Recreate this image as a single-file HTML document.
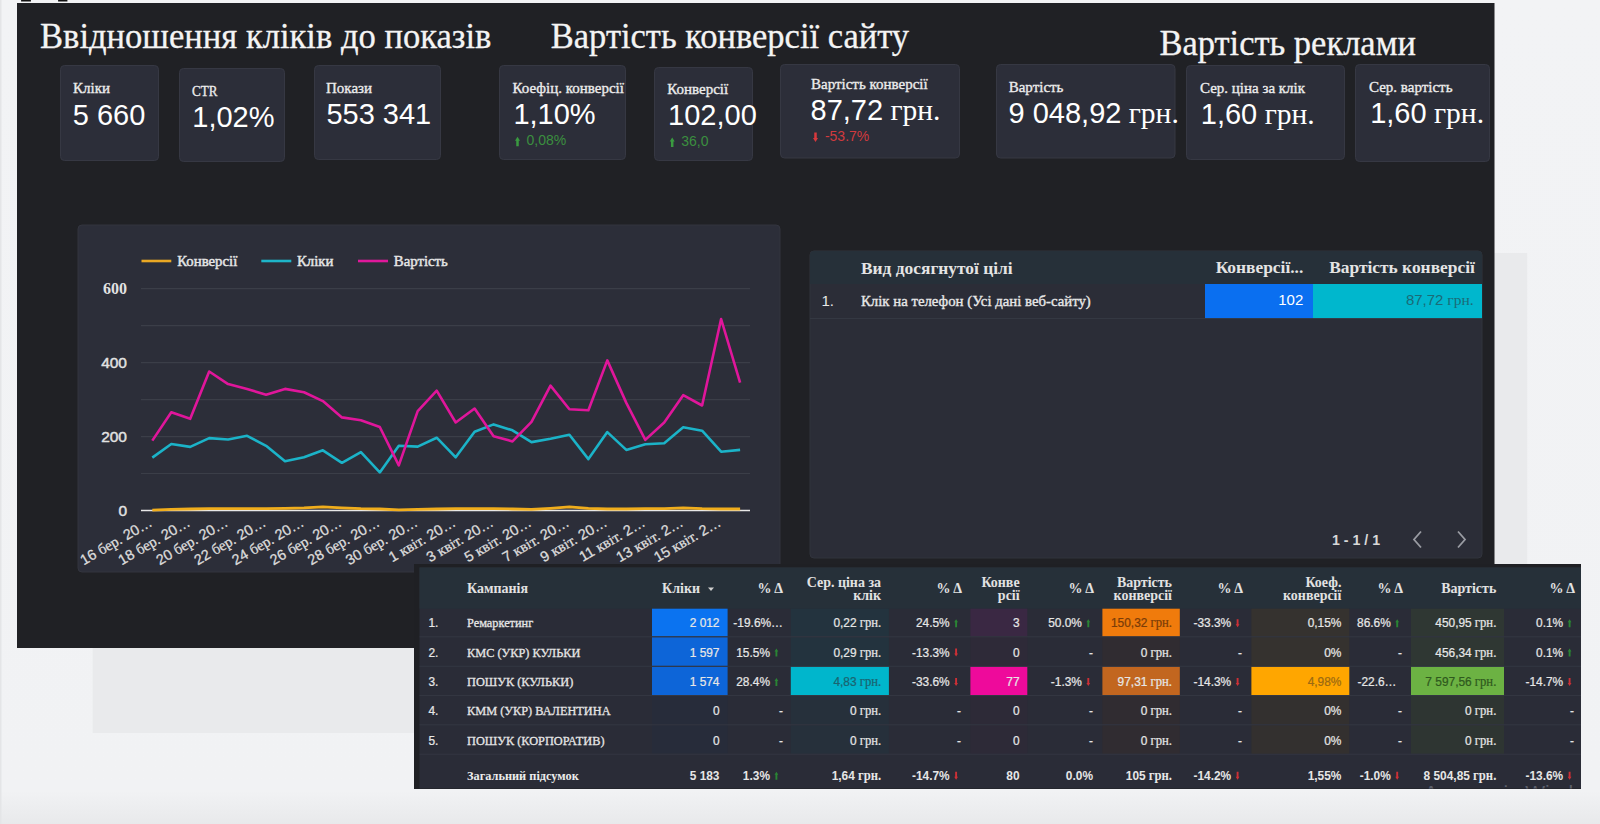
<!DOCTYPE html><html><head><meta charset="utf-8"><title>Dashboard</title>
<style>html,body{margin:0;padding:0;background:#f2f3f5;overflow:hidden;width:1600px;height:824px}svg{display:block}text{white-space:pre}</style></head><body>
<svg width="1600" height="824" viewBox="0 0 1600 824">
<defs><linearGradient id="bg" x1="0" y1="0" x2="0" y2="1"><stop offset="0" stop-color="#f2f3f5"/><stop offset="0.96" stop-color="#f1f2f4"/><stop offset="1" stop-color="#e8e9eb"/></linearGradient></defs>
<rect x="0" y="0" width="1600" height="824" fill="url(#bg)" />
<rect x="0" y="0" width="1.5" height="824" fill="#e4e5e7" />
<rect x="21" y="0" width="10" height="1.6" fill="#111" rx="0.5" />
<rect x="58" y="0" width="9.5" height="1.6" fill="#111" rx="0.5" />
<rect x="92.7" y="253" width="1434.5" height="480" fill="#e9eaec" />
<rect x="17" y="3" width="1477.5" height="645" fill="#202125" />
<text transform="translate(40,48.4) scale(0.945,1)" x="0" y="0" text-anchor="start" fill="#f4f4f4" font-size="36.6" font-family="'Liberation Serif', 'Times New Roman', serif" font-weight="normal"  stroke="#f4f4f4" stroke-width="0.3" stroke-linejoin="round">Ввідношення кліків до показів</text>
<text transform="translate(550.8,48.1) scale(0.945,1)" x="0" y="0" text-anchor="start" fill="#f4f4f4" font-size="36.5" font-family="'Liberation Serif', 'Times New Roman', serif" font-weight="normal"  stroke="#f4f4f4" stroke-width="0.3" stroke-linejoin="round">Вартість конверсії сайту</text>
<text transform="translate(1159.4,55.2) scale(0.945,1)" x="0" y="0" text-anchor="start" fill="#f4f4f4" font-size="36.5" font-family="'Liberation Serif', 'Times New Roman', serif" font-weight="normal"  stroke="#f4f4f4" stroke-width="0.3" stroke-linejoin="round">Вартість реклами</text>
<rect x="60.5" y="65.5" width="98" height="95" fill="#2c2e39" rx="4" stroke="#363843" stroke-width="1" />
<text x="73" y="92.6" text-anchor="start" fill="#ececec" font-size="15" font-family="'Liberation Serif', 'Times New Roman', serif" font-weight="normal"  stroke="#ececec" stroke-width="0.35" stroke-linejoin="round">Кліки</text>
<text x="72.8" y="124.5" text-anchor="start" fill="#ffffff" font-size="29" font-family="'Liberation Sans', Arial, sans-serif" font-weight="normal" >5 660</text>
<rect x="179.5" y="68.5" width="105" height="93" fill="#2c2e39" rx="4" stroke="#363843" stroke-width="1" />
<text transform="translate(192,95.6) scale(0.87,1)" x="0" y="0" text-anchor="start" fill="#ececec" font-size="15" font-family="'Liberation Serif', 'Times New Roman', serif" font-weight="normal"  stroke="#ececec" stroke-width="0.35" stroke-linejoin="round">CTR</text>
<text x="192.3" y="127" text-anchor="start" fill="#ffffff" font-size="29" font-family="'Liberation Sans', Arial, sans-serif" font-weight="normal" >1,02%</text>
<rect x="314.5" y="65.5" width="126" height="94" fill="#2c2e39" rx="4" stroke="#363843" stroke-width="1" />
<text x="326" y="93.2" text-anchor="start" fill="#ececec" font-size="15" font-family="'Liberation Serif', 'Times New Roman', serif" font-weight="normal"  stroke="#ececec" stroke-width="0.35" stroke-linejoin="round">Покази</text>
<text x="326.4" y="124" text-anchor="start" fill="#ffffff" font-size="29" font-family="'Liberation Sans', Arial, sans-serif" font-weight="normal" >553 341</text>
<rect x="499.5" y="65.5" width="126" height="94" fill="#2c2e39" rx="4" stroke="#363843" stroke-width="1" />
<text x="512.5" y="93.2" text-anchor="start" fill="#ececec" font-size="15" font-family="'Liberation Serif', 'Times New Roman', serif" font-weight="normal"  stroke="#ececec" stroke-width="0.35" stroke-linejoin="round">Коефіц. конверсії</text>
<text x="513.4" y="124" text-anchor="start" fill="#ffffff" font-size="29" font-family="'Liberation Sans', Arial, sans-serif" font-weight="normal" >1,10%</text>
<path d="M517.5 136.8 L520 140.8 L518.75 140.8 L518.75 146.3 L516.25 146.3 L516.25 140.8 L515 140.8 Z" fill="#3a9a40"/>
<text x="526.5" y="145.3" text-anchor="start" fill="#3b8f3f" font-size="14" font-family="'Liberation Sans', Arial, sans-serif" font-weight="normal" >0,08%</text>
<rect x="654.5" y="67.5" width="98" height="93" fill="#2c2e39" rx="4" stroke="#363843" stroke-width="1" />
<text x="667.2" y="93.9" text-anchor="start" fill="#ececec" font-size="15" font-family="'Liberation Serif', 'Times New Roman', serif" font-weight="normal"  stroke="#ececec" stroke-width="0.35" stroke-linejoin="round">Конверсії</text>
<text x="668.1" y="125.1" text-anchor="start" fill="#ffffff" font-size="29" font-family="'Liberation Sans', Arial, sans-serif" font-weight="normal" >102,00</text>
<path d="M672.2 137.5 L674.7 141.5 L673.45 141.5 L673.45 147 L670.95 147 L670.95 141.5 L669.7 141.5 Z" fill="#3a9a40"/>
<text x="681.2" y="146" text-anchor="start" fill="#3b8f3f" font-size="14" font-family="'Liberation Sans', Arial, sans-serif" font-weight="normal" >36,0</text>
<rect x="780.5" y="64.5" width="179" height="93.5" fill="#2c2e39" rx="4" stroke="#363843" stroke-width="1" />
<text x="811" y="89" text-anchor="start" fill="#ececec" font-size="15" font-family="'Liberation Serif', 'Times New Roman', serif" font-weight="normal"  stroke="#ececec" stroke-width="0.35" stroke-linejoin="round">Вартість конверсії</text>
<text x="810.5" y="119.8" text-anchor="start" fill="#ffffff" font-size="29" font-family="'Liberation Sans', Arial, sans-serif" font-weight="normal" >87,72<tspan font-family="'Liberation Serif', 'Times New Roman', serif" font-size="29.5"> грн.</tspan></text>
<path d="M815.5 142 L818 138.0 L816.75 138.0 L816.75 132.5 L814.25 132.5 L814.25 138.0 L813 138.0 Z" fill="#d8383c"/>
<text x="824.9" y="141" text-anchor="start" fill="#d13a3e" font-size="14" font-family="'Liberation Sans', Arial, sans-serif" font-weight="normal" >-53.7%</text>
<rect x="996.5" y="64.5" width="178.5" height="93.5" fill="#2c2e39" rx="4" stroke="#363843" stroke-width="1" />
<text x="1008.7" y="92.2" text-anchor="start" fill="#ececec" font-size="15" font-family="'Liberation Serif', 'Times New Roman', serif" font-weight="normal"  stroke="#ececec" stroke-width="0.35" stroke-linejoin="round">Вартість</text>
<text x="1008.5" y="123.4" text-anchor="start" fill="#ffffff" font-size="29" font-family="'Liberation Sans', Arial, sans-serif" font-weight="normal" >9 048,92<tspan font-family="'Liberation Serif', 'Times New Roman', serif" font-size="29.5"> грн.</tspan></text>
<rect x="1186.5" y="65.5" width="158" height="94" fill="#2c2e39" rx="4" stroke="#363843" stroke-width="1" />
<text x="1200" y="92.8" text-anchor="start" fill="#ececec" font-size="15" font-family="'Liberation Serif', 'Times New Roman', serif" font-weight="normal"  stroke="#ececec" stroke-width="0.35" stroke-linejoin="round">Сер. ціна за клік</text>
<text x="1200.8" y="124" text-anchor="start" fill="#ffffff" font-size="29" font-family="'Liberation Sans', Arial, sans-serif" font-weight="normal" >1,60<tspan font-family="'Liberation Serif', 'Times New Roman', serif" font-size="29.5"> грн.</tspan></text>
<rect x="1355.5" y="64.5" width="134" height="97" fill="#2c2e39" rx="4" stroke="#363843" stroke-width="1" />
<text x="1369" y="92.2" text-anchor="start" fill="#ececec" font-size="15" font-family="'Liberation Serif', 'Times New Roman', serif" font-weight="normal"  stroke="#ececec" stroke-width="0.35" stroke-linejoin="round">Сер. вартість</text>
<text x="1370.2" y="123.4" text-anchor="start" fill="#ffffff" font-size="29" font-family="'Liberation Sans', Arial, sans-serif" font-weight="normal" >1,60<tspan font-family="'Liberation Serif', 'Times New Roman', serif" font-size="29.5"> грн.</tspan></text>
<rect x="78" y="225" width="702" height="347" fill="#2c2e39" rx="4" stroke="#33353f" stroke-width="1" />
<line x1="141.5" y1="261" x2="171.3" y2="261" stroke="#eaa824" stroke-width="2.6"/>
<text x="177.2" y="266.4" text-anchor="start" fill="#e6e6e6" font-size="14.8" font-family="'Liberation Serif', 'Times New Roman', serif" font-weight="normal"  stroke="#e6e6e6" stroke-width="0.45" stroke-linejoin="round">Конверсії</text>
<line x1="261.3" y1="261" x2="291.3" y2="261" stroke="#1eb5c9" stroke-width="2.6"/>
<text x="297" y="266.4" text-anchor="start" fill="#e6e6e6" font-size="14.8" font-family="'Liberation Serif', 'Times New Roman', serif" font-weight="normal"  stroke="#e6e6e6" stroke-width="0.45" stroke-linejoin="round">Кліки</text>
<line x1="358" y1="261" x2="388" y2="261" stroke="#e0189b" stroke-width="2.6"/>
<text x="393.8" y="266.4" text-anchor="start" fill="#e6e6e6" font-size="14.8" font-family="'Liberation Serif', 'Times New Roman', serif" font-weight="normal"  stroke="#e6e6e6" stroke-width="0.45" stroke-linejoin="round">Вартість</text>
<line x1="141" y1="473.5" x2="750" y2="473.5" stroke="#3b3e48" stroke-width="1.2"/>
<line x1="141" y1="436.6" x2="750" y2="436.6" stroke="#3b3e48" stroke-width="1.2"/>
<line x1="141" y1="399.6" x2="750" y2="399.6" stroke="#3b3e48" stroke-width="1.2"/>
<line x1="141" y1="362.7" x2="750" y2="362.7" stroke="#3b3e48" stroke-width="1.2"/>
<line x1="141" y1="325.7" x2="750" y2="325.7" stroke="#3b3e48" stroke-width="1.2"/>
<line x1="141" y1="288.7" x2="750" y2="288.7" stroke="#3b3e48" stroke-width="1.2"/>
<text x="127" y="294.34000000000003" text-anchor="end" fill="#e2e2e2" font-size="16" font-family="'Liberation Serif', 'Times New Roman', serif" font-weight="bold" >600</text>
<text x="127" y="368.26" text-anchor="end" fill="#e2e2e2" font-size="15.5" font-family="'Liberation Sans', Arial, sans-serif" font-weight="normal"  stroke="#e2e2e2" stroke-width="0.45" stroke-linejoin="round">400</text>
<text x="127" y="442.18" text-anchor="end" fill="#e2e2e2" font-size="15.5" font-family="'Liberation Sans', Arial, sans-serif" font-weight="normal"  stroke="#e2e2e2" stroke-width="0.45" stroke-linejoin="round">200</text>
<text x="127" y="516.1" text-anchor="end" fill="#e2e2e2" font-size="15.5" font-family="'Liberation Sans', Arial, sans-serif" font-weight="normal"  stroke="#e2e2e2" stroke-width="0.45" stroke-linejoin="round">0</text>
<line x1="141" y1="510.5" x2="750" y2="510.5" stroke="#e8e8e8" stroke-width="1.3"/>
<polyline points="152.3,510.1 171.3,509.4 190.2,509.0 209.2,508.7 228.1,508.7 247.1,508.7 266.1,508.7 285.0,508.3 304.0,507.9 322.9,506.8 341.9,507.9 360.9,508.7 379.8,509.0 398.8,509.8 417.7,509.4 436.7,509.0 455.7,508.7 474.6,508.7 493.6,508.7 512.5,509.0 531.5,509.4 550.5,508.3 569.4,506.8 588.4,508.3 607.3,509.0 626.3,509.0 645.3,508.7 664.2,508.7 683.2,507.9 702.1,508.7 721.1,509.0 740.1,509.0" fill="none" stroke="#f0ad1c" stroke-width="2.8" stroke-linejoin="round"/>
<polyline points="152.3,457.6 171.3,444.0 190.2,446.9 209.2,438.1 228.1,439.5 247.1,435.8 266.1,445.8 285.0,461.3 304.0,457.3 322.9,450.3 341.9,462.8 360.9,452.1 379.8,472.4 398.8,445.8 417.7,446.6 436.7,437.7 455.7,457.3 474.6,431.8 493.6,424.4 512.5,430.3 531.5,442.1 550.5,438.8 569.4,434.7 588.4,459.1 607.3,432.1 626.3,449.9 645.3,444.3 664.2,443.2 683.2,427.3 702.1,430.7 721.1,451.7 740.1,449.9" fill="none" stroke="#1bb3c8" stroke-width="2.6" stroke-linejoin="round"/>
<polyline points="152.3,440.6 171.3,412.2 190.2,418.8 209.2,371.5 228.1,384.1 247.1,388.9 266.1,394.8 285.0,388.9 304.0,392.2 322.9,401.1 341.9,417.4 360.9,420.3 379.8,427.0 398.8,465.4 417.7,411.1 436.7,390.7 455.7,422.5 474.6,408.5 493.6,436.2 512.5,441.4 531.5,421.8 550.5,385.6 569.4,409.2 588.4,410.3 607.3,360.4 626.3,402.9 645.3,439.9 664.2,422.5 683.2,395.2 702.1,405.5 721.1,319.0 740.1,382.6" fill="none" stroke="#e0169b" stroke-width="2.6" stroke-linejoin="round"/>
<g transform="translate(153.3,525.3) rotate(-30)">
<text x="0" y="0" text-anchor="end" fill="#dcdcdc" font-size="14.5" font-family="'Liberation Sans', Arial, sans-serif" font-weight="normal"  stroke="#dcdcdc" stroke-width="0.3" stroke-linejoin="round">16 <tspan font-family="'Liberation Serif', 'Times New Roman', serif" font-size="15">бер.</tspan> 20…</text>
</g>
<g transform="translate(191.2,525.3) rotate(-30)">
<text x="0" y="0" text-anchor="end" fill="#dcdcdc" font-size="14.5" font-family="'Liberation Sans', Arial, sans-serif" font-weight="normal"  stroke="#dcdcdc" stroke-width="0.3" stroke-linejoin="round">18 <tspan font-family="'Liberation Serif', 'Times New Roman', serif" font-size="15">бер.</tspan> 20…</text>
</g>
<g transform="translate(229.1,525.3) rotate(-30)">
<text x="0" y="0" text-anchor="end" fill="#dcdcdc" font-size="14.5" font-family="'Liberation Sans', Arial, sans-serif" font-weight="normal"  stroke="#dcdcdc" stroke-width="0.3" stroke-linejoin="round">20 <tspan font-family="'Liberation Serif', 'Times New Roman', serif" font-size="15">бер.</tspan> 20…</text>
</g>
<g transform="translate(267.1,525.3) rotate(-30)">
<text x="0" y="0" text-anchor="end" fill="#dcdcdc" font-size="14.5" font-family="'Liberation Sans', Arial, sans-serif" font-weight="normal"  stroke="#dcdcdc" stroke-width="0.3" stroke-linejoin="round">22 <tspan font-family="'Liberation Serif', 'Times New Roman', serif" font-size="15">бер.</tspan> 20…</text>
</g>
<g transform="translate(305.0,525.3) rotate(-30)">
<text x="0" y="0" text-anchor="end" fill="#dcdcdc" font-size="14.5" font-family="'Liberation Sans', Arial, sans-serif" font-weight="normal"  stroke="#dcdcdc" stroke-width="0.3" stroke-linejoin="round">24 <tspan font-family="'Liberation Serif', 'Times New Roman', serif" font-size="15">бер.</tspan> 20…</text>
</g>
<g transform="translate(342.9,525.3) rotate(-30)">
<text x="0" y="0" text-anchor="end" fill="#dcdcdc" font-size="14.5" font-family="'Liberation Sans', Arial, sans-serif" font-weight="normal"  stroke="#dcdcdc" stroke-width="0.3" stroke-linejoin="round">26 <tspan font-family="'Liberation Serif', 'Times New Roman', serif" font-size="15">бер.</tspan> 20…</text>
</g>
<g transform="translate(380.8,525.3) rotate(-30)">
<text x="0" y="0" text-anchor="end" fill="#dcdcdc" font-size="14.5" font-family="'Liberation Sans', Arial, sans-serif" font-weight="normal"  stroke="#dcdcdc" stroke-width="0.3" stroke-linejoin="round">28 <tspan font-family="'Liberation Serif', 'Times New Roman', serif" font-size="15">бер.</tspan> 20…</text>
</g>
<g transform="translate(418.7,525.3) rotate(-30)">
<text x="0" y="0" text-anchor="end" fill="#dcdcdc" font-size="14.5" font-family="'Liberation Sans', Arial, sans-serif" font-weight="normal"  stroke="#dcdcdc" stroke-width="0.3" stroke-linejoin="round">30 <tspan font-family="'Liberation Serif', 'Times New Roman', serif" font-size="15">бер.</tspan> 20…</text>
</g>
<g transform="translate(456.7,525.3) rotate(-30)">
<text x="0" y="0" text-anchor="end" fill="#dcdcdc" font-size="14.5" font-family="'Liberation Sans', Arial, sans-serif" font-weight="normal"  stroke="#dcdcdc" stroke-width="0.3" stroke-linejoin="round">1 <tspan font-family="'Liberation Serif', 'Times New Roman', serif" font-size="15">квіт.</tspan> 20…</text>
</g>
<g transform="translate(494.6,525.3) rotate(-30)">
<text x="0" y="0" text-anchor="end" fill="#dcdcdc" font-size="14.5" font-family="'Liberation Sans', Arial, sans-serif" font-weight="normal"  stroke="#dcdcdc" stroke-width="0.3" stroke-linejoin="round">3 <tspan font-family="'Liberation Serif', 'Times New Roman', serif" font-size="15">квіт.</tspan> 20…</text>
</g>
<g transform="translate(532.5,525.3) rotate(-30)">
<text x="0" y="0" text-anchor="end" fill="#dcdcdc" font-size="14.5" font-family="'Liberation Sans', Arial, sans-serif" font-weight="normal"  stroke="#dcdcdc" stroke-width="0.3" stroke-linejoin="round">5 <tspan font-family="'Liberation Serif', 'Times New Roman', serif" font-size="15">квіт.</tspan> 20…</text>
</g>
<g transform="translate(570.4,525.3) rotate(-30)">
<text x="0" y="0" text-anchor="end" fill="#dcdcdc" font-size="14.5" font-family="'Liberation Sans', Arial, sans-serif" font-weight="normal"  stroke="#dcdcdc" stroke-width="0.3" stroke-linejoin="round">7 <tspan font-family="'Liberation Serif', 'Times New Roman', serif" font-size="15">квіт.</tspan> 20…</text>
</g>
<g transform="translate(608.3,525.3) rotate(-30)">
<text x="0" y="0" text-anchor="end" fill="#dcdcdc" font-size="14.5" font-family="'Liberation Sans', Arial, sans-serif" font-weight="normal"  stroke="#dcdcdc" stroke-width="0.3" stroke-linejoin="round">9 <tspan font-family="'Liberation Serif', 'Times New Roman', serif" font-size="15">квіт.</tspan> 20…</text>
</g>
<g transform="translate(646.3,525.3) rotate(-30)">
<text x="0" y="0" text-anchor="end" fill="#dcdcdc" font-size="14.5" font-family="'Liberation Sans', Arial, sans-serif" font-weight="normal"  stroke="#dcdcdc" stroke-width="0.3" stroke-linejoin="round">11 <tspan font-family="'Liberation Serif', 'Times New Roman', serif" font-size="15">квіт.</tspan> 2…</text>
</g>
<g transform="translate(684.2,525.3) rotate(-30)">
<text x="0" y="0" text-anchor="end" fill="#dcdcdc" font-size="14.5" font-family="'Liberation Sans', Arial, sans-serif" font-weight="normal"  stroke="#dcdcdc" stroke-width="0.3" stroke-linejoin="round">13 <tspan font-family="'Liberation Serif', 'Times New Roman', serif" font-size="15">квіт.</tspan> 2…</text>
</g>
<g transform="translate(722.1,525.3) rotate(-30)">
<text x="0" y="0" text-anchor="end" fill="#dcdcdc" font-size="14.5" font-family="'Liberation Sans', Arial, sans-serif" font-weight="normal"  stroke="#dcdcdc" stroke-width="0.3" stroke-linejoin="round">15 <tspan font-family="'Liberation Serif', 'Times New Roman', serif" font-size="15">квіт.</tspan> 2…</text>
</g>
<rect x="810" y="251" width="672" height="307" fill="#2b2d37" rx="4" stroke="#31343d" stroke-width="1" />
<path d="M810 284 L810 255 Q810 251 814 251 L1478 251 Q1482 251 1482 255 L1482 284 Z" fill="#263039"/>
<text x="861" y="274" text-anchor="start" fill="#e4e4e4" font-size="17.4" font-family="'Liberation Serif', 'Times New Roman', serif" font-weight="bold" >Вид досягнутої цілі</text>
<text x="1303.3" y="272.8" text-anchor="end" fill="#e4e4e4" font-size="17.4" font-family="'Liberation Serif', 'Times New Roman', serif" font-weight="bold" >Конверсії...</text>
<text x="1474.8" y="272.8" text-anchor="end" fill="#e4e4e4" font-size="17.4" font-family="'Liberation Serif', 'Times New Roman', serif" font-weight="bold" >Вартість конверсії</text>
<rect x="1205" y="284" width="108" height="34.4" fill="#0a6ff0" />
<rect x="1313" y="284" width="169" height="34.4" fill="#00b7cd" />
<line x1="810" y1="318.6" x2="1482" y2="318.6" stroke="#363a44" stroke-width="1"/>
<text x="821.5" y="305.6" text-anchor="start" fill="#e8e8e8" font-size="15" font-family="'Liberation Sans', Arial, sans-serif" font-weight="normal" >1.</text>
<text x="861" y="305.8" text-anchor="start" fill="#e8e8e8" font-size="14.8" font-family="'Liberation Serif', 'Times New Roman', serif" font-weight="normal"  stroke="#e8e8e8" stroke-width="0.35" stroke-linejoin="round">Клік на телефон (Усі дані веб-сайту)</text>
<text x="1303.3" y="305.4" text-anchor="end" fill="#ffffff" font-size="15" font-family="'Liberation Sans', Arial, sans-serif" font-weight="normal" >102</text>
<text x="1473.6" y="305.4" text-anchor="end" fill="#1b6b77" font-size="15" font-family="'Liberation Sans', Arial, sans-serif" font-weight="normal" >87,72<tspan font-family="'Liberation Serif', 'Times New Roman', serif" font-size="15.5"> грн.</tspan></text>
<text x="1332" y="545" text-anchor="start" fill="#d8d8d8" font-size="14.2" font-family="'Liberation Sans', Arial, sans-serif" font-weight="bold" >1 - 1 / 1</text>
<path d="M1421 531.5 L1414 539.5 L1421 547.5" fill="none" stroke="#9a9ca3" stroke-width="1.8"/>
<path d="M1458 531.5 L1465 539.5 L1458 547.5" fill="none" stroke="#9a9ca3" stroke-width="1.8"/>
<rect x="414" y="564" width="1167" height="225" fill="#1f2024" />
<rect x="419.5" y="567.5" width="1161.5" height="221" fill="#2a2c37" />
<rect x="419.5" y="567.5" width="1161.5" height="41.2" fill="#263039" />
<rect x="652" y="608.7" width="75.6" height="27.7" fill="#0b73f0" />
<rect x="652" y="637.2" width="75.6" height="28.7" fill="#0d65d8" />
<rect x="652" y="666.7" width="75.6" height="28.4" fill="#0d65d8" />
<rect x="652" y="695.9" width="75.6" height="28.5" fill="#272c3a" />
<rect x="652" y="725.2" width="75.6" height="28.6" fill="#272c3a" />
<rect x="790.8" y="608.7" width="98.1" height="27.7" fill="#23333e" />
<rect x="790.8" y="637.2" width="98.1" height="28.7" fill="#23333e" />
<rect x="790.8" y="666.7" width="98.1" height="28.4" fill="#00b6cc" />
<rect x="790.8" y="695.9" width="98.1" height="28.5" fill="#26303b" />
<rect x="790.8" y="725.2" width="98.1" height="28.6" fill="#26303b" />
<rect x="970.4" y="608.7" width="56.9" height="27.7" fill="#3a2843" />
<rect x="970.4" y="637.2" width="56.9" height="28.7" fill="#2e2a38" />
<rect x="970.4" y="666.7" width="56.9" height="28.4" fill="#ee0a9b" />
<rect x="970.4" y="695.9" width="56.9" height="28.5" fill="#2d2a37" />
<rect x="970.4" y="725.2" width="56.9" height="28.6" fill="#2d2a37" />
<rect x="1102.4" y="608.7" width="77.4" height="27.7" fill="#f07b0c" />
<rect x="1102.4" y="637.2" width="77.4" height="28.7" fill="#302c31" />
<rect x="1102.4" y="666.7" width="77.4" height="28.4" fill="#c2661f" />
<rect x="1102.4" y="695.9" width="77.4" height="28.5" fill="#302c31" />
<rect x="1102.4" y="725.2" width="77.4" height="28.6" fill="#302c31" />
<rect x="1251.4" y="608.7" width="97.9" height="27.7" fill="#35322f" />
<rect x="1251.4" y="637.2" width="97.9" height="28.7" fill="#35322f" />
<rect x="1251.4" y="666.7" width="97.9" height="28.4" fill="#ffa600" />
<rect x="1251.4" y="695.9" width="97.9" height="28.5" fill="#33302f" />
<rect x="1251.4" y="725.2" width="97.9" height="28.6" fill="#33302f" />
<rect x="1411" y="608.7" width="93" height="27.7" fill="#2f3733" />
<rect x="1411" y="637.2" width="93" height="28.7" fill="#2f3733" />
<rect x="1411" y="666.7" width="93" height="28.4" fill="#6cb243" />
<rect x="1411" y="695.9" width="93" height="28.5" fill="#2e3532" />
<rect x="1411" y="725.2" width="93" height="28.6" fill="#2e3532" />
<line x1="419.5" y1="636.8000000000001" x2="1581" y2="636.8000000000001" stroke="#343843" stroke-width="0.9"/>
<line x1="419.5" y1="666.3000000000001" x2="1581" y2="666.3000000000001" stroke="#343843" stroke-width="0.9"/>
<line x1="419.5" y1="695.5" x2="1581" y2="695.5" stroke="#343843" stroke-width="0.9"/>
<line x1="419.5" y1="724.8000000000001" x2="1581" y2="724.8000000000001" stroke="#343843" stroke-width="0.9"/>
<line x1="419.5" y1="754.2" x2="1581" y2="754.2" stroke="#343843" stroke-width="0.9"/>
<text transform="translate(467,592.9) scale(0.985,1)" x="0" y="0" text-anchor="start" fill="#e2e2e2" font-size="14.2" font-family="'Liberation Serif', 'Times New Roman', serif" font-weight="bold" >Кампанія</text>
<text transform="translate(700,592.9) scale(0.985,1)" x="0" y="0" text-anchor="end" fill="#e2e2e2" font-size="14.2" font-family="'Liberation Serif', 'Times New Roman', serif" font-weight="bold" >Кліки</text>
<path d="M708 587.4 L714 587.4 L711 590.9 Z" fill="#d0d0d0"/>
<text transform="translate(783,592.9) scale(0.985,1)" x="0" y="0" text-anchor="end" fill="#e2e2e2" font-size="14.2" font-family="'Liberation Serif', 'Times New Roman', serif" font-weight="bold" >% Δ</text>
<text transform="translate(881,586.9) scale(0.985,1)" x="0" y="0" text-anchor="end" fill="#e2e2e2" font-size="14.2" font-family="'Liberation Serif', 'Times New Roman', serif" font-weight="bold" >Сер. ціна за</text>
<text transform="translate(881,600.3) scale(0.985,1)" x="0" y="0" text-anchor="end" fill="#e2e2e2" font-size="14.2" font-family="'Liberation Serif', 'Times New Roman', serif" font-weight="bold" >клік</text>
<text transform="translate(962,592.9) scale(0.985,1)" x="0" y="0" text-anchor="end" fill="#e2e2e2" font-size="14.2" font-family="'Liberation Serif', 'Times New Roman', serif" font-weight="bold" >% Δ</text>
<text transform="translate(1019.6,586.9) scale(0.985,1)" x="0" y="0" text-anchor="end" fill="#e2e2e2" font-size="14.2" font-family="'Liberation Serif', 'Times New Roman', serif" font-weight="bold" >Конве</text>
<text transform="translate(1019.6,600.3) scale(0.985,1)" x="0" y="0" text-anchor="end" fill="#e2e2e2" font-size="14.2" font-family="'Liberation Serif', 'Times New Roman', serif" font-weight="bold" >рсії</text>
<text transform="translate(1094,592.9) scale(0.985,1)" x="0" y="0" text-anchor="end" fill="#e2e2e2" font-size="14.2" font-family="'Liberation Serif', 'Times New Roman', serif" font-weight="bold" >% Δ</text>
<text transform="translate(1172,586.9) scale(0.985,1)" x="0" y="0" text-anchor="end" fill="#e2e2e2" font-size="14.2" font-family="'Liberation Serif', 'Times New Roman', serif" font-weight="bold" >Вартість</text>
<text transform="translate(1172,600.3) scale(0.985,1)" x="0" y="0" text-anchor="end" fill="#e2e2e2" font-size="14.2" font-family="'Liberation Serif', 'Times New Roman', serif" font-weight="bold" >конверсії</text>
<text transform="translate(1243,592.9) scale(0.985,1)" x="0" y="0" text-anchor="end" fill="#e2e2e2" font-size="14.2" font-family="'Liberation Serif', 'Times New Roman', serif" font-weight="bold" >% Δ</text>
<text transform="translate(1341.4,586.9) scale(0.985,1)" x="0" y="0" text-anchor="end" fill="#e2e2e2" font-size="14.2" font-family="'Liberation Serif', 'Times New Roman', serif" font-weight="bold" >Коеф.</text>
<text transform="translate(1341.4,600.3) scale(0.985,1)" x="0" y="0" text-anchor="end" fill="#e2e2e2" font-size="14.2" font-family="'Liberation Serif', 'Times New Roman', serif" font-weight="bold" >конверсії</text>
<text transform="translate(1403,592.9) scale(0.985,1)" x="0" y="0" text-anchor="end" fill="#e2e2e2" font-size="14.2" font-family="'Liberation Serif', 'Times New Roman', serif" font-weight="bold" >% Δ</text>
<text transform="translate(1496.3,592.9) scale(0.985,1)" x="0" y="0" text-anchor="end" fill="#e2e2e2" font-size="14.2" font-family="'Liberation Serif', 'Times New Roman', serif" font-weight="bold" >Вартість</text>
<text transform="translate(1575,592.9) scale(0.985,1)" x="0" y="0" text-anchor="end" fill="#e2e2e2" font-size="14.2" font-family="'Liberation Serif', 'Times New Roman', serif" font-weight="bold" >% Δ</text>
<text transform="translate(428.5,627.2) scale(0.93,1)" x="0" y="0" text-anchor="start" fill="#e6e6e6" font-size="12.8" font-family="'Liberation Sans', Arial, sans-serif" font-weight="normal"  stroke="#e6e6e6" stroke-width="0.25" stroke-linejoin="round">1.</text>
<text transform="translate(467,627.2) scale(0.92,1)" x="0" y="0" text-anchor="start" fill="#e6e6e6" font-size="13.4" font-family="'Liberation Serif', 'Times New Roman', serif" font-weight="normal"  stroke="#e6e6e6" stroke-width="0.3" stroke-linejoin="round">Ремаркетинг</text>
<text transform="translate(719.5,627.2) scale(0.93,1)" x="0" y="0" text-anchor="end" fill="#e6e6e6" font-size="12.8" font-family="'Liberation Sans', Arial, sans-serif" font-weight="normal"  stroke="#e6e6e6" stroke-width="0.25" stroke-linejoin="round">2 012</text>
<text transform="translate(783,627.2) scale(0.93,1)" x="0" y="0" text-anchor="end" fill="#e6e6e6" font-size="12.8" font-family="'Liberation Sans', Arial, sans-serif" font-weight="normal"  stroke="#e6e6e6" stroke-width="0.25" stroke-linejoin="round">-19.6%…</text>
<text transform="translate(881.2,627.2) scale(0.93,1)" x="0" y="0" text-anchor="end" fill="#e6e6e6" font-size="12.8" font-family="'Liberation Sans', Arial, sans-serif" font-weight="normal"  stroke="#e6e6e6" stroke-width="0.25" stroke-linejoin="round">0,22<tspan font-family="'Liberation Serif', 'Times New Roman', serif" font-size="13.6"> грн.</tspan></text>
<text transform="translate(949.7,627.2) scale(0.93,1)" x="0" y="0" text-anchor="end" fill="#e6e6e6" font-size="12.8" font-family="'Liberation Sans', Arial, sans-serif" font-weight="normal"  stroke="#e6e6e6" stroke-width="0.25" stroke-linejoin="round">24.5%</text>
<path d="M956.1 619.2 L958.0 622.24 L957.0500000000001 622.24 L957.0500000000001 627.2 L955.1500000000001 627.2 L955.1500000000001 622.24 L954.2 622.24 Z" fill="#2a8434"/>
<text transform="translate(1019.6,627.2) scale(0.93,1)" x="0" y="0" text-anchor="end" fill="#e6e6e6" font-size="12.8" font-family="'Liberation Sans', Arial, sans-serif" font-weight="normal"  stroke="#e6e6e6" stroke-width="0.25" stroke-linejoin="round">3</text>
<text transform="translate(1081.9,627.2) scale(0.93,1)" x="0" y="0" text-anchor="end" fill="#e6e6e6" font-size="12.8" font-family="'Liberation Sans', Arial, sans-serif" font-weight="normal"  stroke="#e6e6e6" stroke-width="0.25" stroke-linejoin="round">50.0%</text>
<path d="M1088.3000000000002 619.2 L1090.2 622.24 L1089.25 622.24 L1089.25 627.2 L1087.3500000000001 627.2 L1087.3500000000001 622.24 L1086.4 622.24 Z" fill="#2a8434"/>
<text transform="translate(1172,627.2) scale(0.93,1)" x="0" y="0" text-anchor="end" fill="#7a3c08" font-size="12.8" font-family="'Liberation Sans', Arial, sans-serif" font-weight="normal"  stroke="#7a3c08" stroke-width="0.25" stroke-linejoin="round">150,32<tspan font-family="'Liberation Serif', 'Times New Roman', serif" font-size="13.6"> грн.</tspan></text>
<text transform="translate(1231.2,627.2) scale(0.93,1)" x="0" y="0" text-anchor="end" fill="#e6e6e6" font-size="12.8" font-family="'Liberation Sans', Arial, sans-serif" font-weight="normal"  stroke="#e6e6e6" stroke-width="0.25" stroke-linejoin="round">-33.3%</text>
<path d="M1237.6000000000001 627.2 L1239.5 624.1600000000001 L1238.55 624.1600000000001 L1238.55 619.2 L1236.65 619.2 L1236.65 624.1600000000001 L1235.7 624.1600000000001 Z" fill="#cc3036"/>
<text transform="translate(1341.4,627.2) scale(0.93,1)" x="0" y="0" text-anchor="end" fill="#e6e6e6" font-size="12.8" font-family="'Liberation Sans', Arial, sans-serif" font-weight="normal"  stroke="#e6e6e6" stroke-width="0.25" stroke-linejoin="round">0,15%</text>
<text transform="translate(1390.8,627.2) scale(0.93,1)" x="0" y="0" text-anchor="end" fill="#e6e6e6" font-size="12.8" font-family="'Liberation Sans', Arial, sans-serif" font-weight="normal"  stroke="#e6e6e6" stroke-width="0.25" stroke-linejoin="round">86.6%</text>
<path d="M1397.2 619.2 L1399.1 622.24 L1398.1499999999999 622.24 L1398.1499999999999 627.2 L1396.25 627.2 L1396.25 622.24 L1395.3 622.24 Z" fill="#2a8434"/>
<text transform="translate(1496.3,627.2) scale(0.93,1)" x="0" y="0" text-anchor="end" fill="#e6e6e6" font-size="12.8" font-family="'Liberation Sans', Arial, sans-serif" font-weight="normal"  stroke="#e6e6e6" stroke-width="0.25" stroke-linejoin="round">450,95<tspan font-family="'Liberation Serif', 'Times New Roman', serif" font-size="13.6"> грн.</tspan></text>
<text transform="translate(1563.2,627.2) scale(0.93,1)" x="0" y="0" text-anchor="end" fill="#e6e6e6" font-size="12.8" font-family="'Liberation Sans', Arial, sans-serif" font-weight="normal"  stroke="#e6e6e6" stroke-width="0.25" stroke-linejoin="round">0.1%</text>
<path d="M1569.6000000000001 619.2 L1571.5 622.24 L1570.55 622.24 L1570.55 627.2 L1568.65 627.2 L1568.65 622.24 L1567.7 622.24 Z" fill="#2a8434"/>
<text transform="translate(428.5,656.5) scale(0.93,1)" x="0" y="0" text-anchor="start" fill="#e6e6e6" font-size="12.8" font-family="'Liberation Sans', Arial, sans-serif" font-weight="normal"  stroke="#e6e6e6" stroke-width="0.25" stroke-linejoin="round">2.</text>
<text transform="translate(467,656.5) scale(0.92,1)" x="0" y="0" text-anchor="start" fill="#e6e6e6" font-size="13.4" font-family="'Liberation Serif', 'Times New Roman', serif" font-weight="normal"  stroke="#e6e6e6" stroke-width="0.3" stroke-linejoin="round">КМС (УКР) КУЛЬКИ</text>
<text transform="translate(719.5,656.5) scale(0.93,1)" x="0" y="0" text-anchor="end" fill="#e6e6e6" font-size="12.8" font-family="'Liberation Sans', Arial, sans-serif" font-weight="normal"  stroke="#e6e6e6" stroke-width="0.25" stroke-linejoin="round">1 597</text>
<text transform="translate(770,656.5) scale(0.93,1)" x="0" y="0" text-anchor="end" fill="#e6e6e6" font-size="12.8" font-family="'Liberation Sans', Arial, sans-serif" font-weight="normal"  stroke="#e6e6e6" stroke-width="0.25" stroke-linejoin="round">15.5%</text>
<path d="M776.4 648.5 L778.3 651.54 L777.35 651.54 L777.35 656.5 L775.45 656.5 L775.45 651.54 L774.5 651.54 Z" fill="#2a8434"/>
<text transform="translate(881.2,656.5) scale(0.93,1)" x="0" y="0" text-anchor="end" fill="#e6e6e6" font-size="12.8" font-family="'Liberation Sans', Arial, sans-serif" font-weight="normal"  stroke="#e6e6e6" stroke-width="0.25" stroke-linejoin="round">0,29<tspan font-family="'Liberation Serif', 'Times New Roman', serif" font-size="13.6"> грн.</tspan></text>
<text transform="translate(949.7,656.5) scale(0.93,1)" x="0" y="0" text-anchor="end" fill="#e6e6e6" font-size="12.8" font-family="'Liberation Sans', Arial, sans-serif" font-weight="normal"  stroke="#e6e6e6" stroke-width="0.25" stroke-linejoin="round">-13.3%</text>
<path d="M956.1 656.5 L958.0 653.46 L957.0500000000001 653.46 L957.0500000000001 648.5 L955.1500000000001 648.5 L955.1500000000001 653.46 L954.2 653.46 Z" fill="#cc3036"/>
<text transform="translate(1019.6,656.5) scale(0.93,1)" x="0" y="0" text-anchor="end" fill="#e6e6e6" font-size="12.8" font-family="'Liberation Sans', Arial, sans-serif" font-weight="normal"  stroke="#e6e6e6" stroke-width="0.25" stroke-linejoin="round">0</text>
<text transform="translate(1093,656.5) scale(0.93,1)" x="0" y="0" text-anchor="end" fill="#e6e6e6" font-size="12.8" font-family="'Liberation Sans', Arial, sans-serif" font-weight="normal"  stroke="#e6e6e6" stroke-width="0.25" stroke-linejoin="round">-</text>
<text transform="translate(1172,656.5) scale(0.93,1)" x="0" y="0" text-anchor="end" fill="#e6e6e6" font-size="12.8" font-family="'Liberation Sans', Arial, sans-serif" font-weight="normal"  stroke="#e6e6e6" stroke-width="0.25" stroke-linejoin="round">0<tspan font-family="'Liberation Serif', 'Times New Roman', serif" font-size="13.6"> грн.</tspan></text>
<text transform="translate(1242,656.5) scale(0.93,1)" x="0" y="0" text-anchor="end" fill="#e6e6e6" font-size="12.8" font-family="'Liberation Sans', Arial, sans-serif" font-weight="normal"  stroke="#e6e6e6" stroke-width="0.25" stroke-linejoin="round">-</text>
<text transform="translate(1341.4,656.5) scale(0.93,1)" x="0" y="0" text-anchor="end" fill="#e6e6e6" font-size="12.8" font-family="'Liberation Sans', Arial, sans-serif" font-weight="normal"  stroke="#e6e6e6" stroke-width="0.25" stroke-linejoin="round">0%</text>
<text transform="translate(1402,656.5) scale(0.93,1)" x="0" y="0" text-anchor="end" fill="#e6e6e6" font-size="12.8" font-family="'Liberation Sans', Arial, sans-serif" font-weight="normal"  stroke="#e6e6e6" stroke-width="0.25" stroke-linejoin="round">-</text>
<text transform="translate(1496.3,656.5) scale(0.93,1)" x="0" y="0" text-anchor="end" fill="#e6e6e6" font-size="12.8" font-family="'Liberation Sans', Arial, sans-serif" font-weight="normal"  stroke="#e6e6e6" stroke-width="0.25" stroke-linejoin="round">456,34<tspan font-family="'Liberation Serif', 'Times New Roman', serif" font-size="13.6"> грн.</tspan></text>
<text transform="translate(1563.2,656.5) scale(0.93,1)" x="0" y="0" text-anchor="end" fill="#e6e6e6" font-size="12.8" font-family="'Liberation Sans', Arial, sans-serif" font-weight="normal"  stroke="#e6e6e6" stroke-width="0.25" stroke-linejoin="round">0.1%</text>
<path d="M1569.6000000000001 648.5 L1571.5 651.54 L1570.55 651.54 L1570.55 656.5 L1568.65 656.5 L1568.65 651.54 L1567.7 651.54 Z" fill="#2a8434"/>
<text transform="translate(428.5,686) scale(0.93,1)" x="0" y="0" text-anchor="start" fill="#e6e6e6" font-size="12.8" font-family="'Liberation Sans', Arial, sans-serif" font-weight="normal"  stroke="#e6e6e6" stroke-width="0.25" stroke-linejoin="round">3.</text>
<text transform="translate(467,686) scale(0.92,1)" x="0" y="0" text-anchor="start" fill="#e6e6e6" font-size="13.4" font-family="'Liberation Serif', 'Times New Roman', serif" font-weight="normal"  stroke="#e6e6e6" stroke-width="0.3" stroke-linejoin="round">ПОШУК (КУЛЬКИ)</text>
<text transform="translate(719.5,686) scale(0.93,1)" x="0" y="0" text-anchor="end" fill="#e6e6e6" font-size="12.8" font-family="'Liberation Sans', Arial, sans-serif" font-weight="normal"  stroke="#e6e6e6" stroke-width="0.25" stroke-linejoin="round">1 574</text>
<text transform="translate(770,686) scale(0.93,1)" x="0" y="0" text-anchor="end" fill="#e6e6e6" font-size="12.8" font-family="'Liberation Sans', Arial, sans-serif" font-weight="normal"  stroke="#e6e6e6" stroke-width="0.25" stroke-linejoin="round">28.4%</text>
<path d="M776.4 678 L778.3 681.04 L777.35 681.04 L777.35 686 L775.45 686 L775.45 681.04 L774.5 681.04 Z" fill="#2a8434"/>
<text transform="translate(881.2,686) scale(0.93,1)" x="0" y="0" text-anchor="end" fill="#1b6470" font-size="12.8" font-family="'Liberation Sans', Arial, sans-serif" font-weight="normal"  stroke="#1b6470" stroke-width="0.25" stroke-linejoin="round">4,83<tspan font-family="'Liberation Serif', 'Times New Roman', serif" font-size="13.6"> грн.</tspan></text>
<text transform="translate(949.7,686) scale(0.93,1)" x="0" y="0" text-anchor="end" fill="#e6e6e6" font-size="12.8" font-family="'Liberation Sans', Arial, sans-serif" font-weight="normal"  stroke="#e6e6e6" stroke-width="0.25" stroke-linejoin="round">-33.6%</text>
<path d="M956.1 686 L958.0 682.96 L957.0500000000001 682.96 L957.0500000000001 678 L955.1500000000001 678 L955.1500000000001 682.96 L954.2 682.96 Z" fill="#cc3036"/>
<text transform="translate(1019.6,686) scale(0.93,1)" x="0" y="0" text-anchor="end" fill="#e6e6e6" font-size="12.8" font-family="'Liberation Sans', Arial, sans-serif" font-weight="normal"  stroke="#e6e6e6" stroke-width="0.25" stroke-linejoin="round">77</text>
<text transform="translate(1081.9,686) scale(0.93,1)" x="0" y="0" text-anchor="end" fill="#e6e6e6" font-size="12.8" font-family="'Liberation Sans', Arial, sans-serif" font-weight="normal"  stroke="#e6e6e6" stroke-width="0.25" stroke-linejoin="round">-1.3%</text>
<path d="M1088.3000000000002 686 L1090.2 682.96 L1089.25 682.96 L1089.25 678 L1087.3500000000001 678 L1087.3500000000001 682.96 L1086.4 682.96 Z" fill="#cc3036"/>
<text transform="translate(1172,686) scale(0.93,1)" x="0" y="0" text-anchor="end" fill="#e6e6e6" font-size="12.8" font-family="'Liberation Sans', Arial, sans-serif" font-weight="normal"  stroke="#e6e6e6" stroke-width="0.25" stroke-linejoin="round">97,31<tspan font-family="'Liberation Serif', 'Times New Roman', serif" font-size="13.6"> грн.</tspan></text>
<text transform="translate(1231.2,686) scale(0.93,1)" x="0" y="0" text-anchor="end" fill="#e6e6e6" font-size="12.8" font-family="'Liberation Sans', Arial, sans-serif" font-weight="normal"  stroke="#e6e6e6" stroke-width="0.25" stroke-linejoin="round">-14.3%</text>
<path d="M1237.6000000000001 686 L1239.5 682.96 L1238.55 682.96 L1238.55 678 L1236.65 678 L1236.65 682.96 L1235.7 682.96 Z" fill="#cc3036"/>
<text transform="translate(1341.4,686) scale(0.93,1)" x="0" y="0" text-anchor="end" fill="#9b6a12" font-size="12.8" font-family="'Liberation Sans', Arial, sans-serif" font-weight="normal"  stroke="#9b6a12" stroke-width="0.25" stroke-linejoin="round">4,98%</text>
<text transform="translate(1396.5,686) scale(0.93,1)" x="0" y="0" text-anchor="end" fill="#e6e6e6" font-size="12.8" font-family="'Liberation Sans', Arial, sans-serif" font-weight="normal"  stroke="#e6e6e6" stroke-width="0.25" stroke-linejoin="round">-22.6…</text>
<text transform="translate(1496.3,686) scale(0.93,1)" x="0" y="0" text-anchor="end" fill="#2f5a1e" font-size="12.8" font-family="'Liberation Sans', Arial, sans-serif" font-weight="normal"  stroke="#2f5a1e" stroke-width="0.25" stroke-linejoin="round">7 597,56<tspan font-family="'Liberation Serif', 'Times New Roman', serif" font-size="13.6"> грн.</tspan></text>
<text transform="translate(1563.2,686) scale(0.93,1)" x="0" y="0" text-anchor="end" fill="#e6e6e6" font-size="12.8" font-family="'Liberation Sans', Arial, sans-serif" font-weight="normal"  stroke="#e6e6e6" stroke-width="0.25" stroke-linejoin="round">-14.7%</text>
<path d="M1569.6000000000001 686 L1571.5 682.96 L1570.55 682.96 L1570.55 678 L1568.65 678 L1568.65 682.96 L1567.7 682.96 Z" fill="#cc3036"/>
<text transform="translate(428.5,715) scale(0.93,1)" x="0" y="0" text-anchor="start" fill="#e6e6e6" font-size="12.8" font-family="'Liberation Sans', Arial, sans-serif" font-weight="normal"  stroke="#e6e6e6" stroke-width="0.25" stroke-linejoin="round">4.</text>
<text transform="translate(467,715) scale(0.92,1)" x="0" y="0" text-anchor="start" fill="#e6e6e6" font-size="13.4" font-family="'Liberation Serif', 'Times New Roman', serif" font-weight="normal"  stroke="#e6e6e6" stroke-width="0.3" stroke-linejoin="round">КММ (УКР) ВАЛЕНТИНА</text>
<text transform="translate(719.5,715) scale(0.93,1)" x="0" y="0" text-anchor="end" fill="#e6e6e6" font-size="12.8" font-family="'Liberation Sans', Arial, sans-serif" font-weight="normal"  stroke="#e6e6e6" stroke-width="0.25" stroke-linejoin="round">0</text>
<text transform="translate(783,715) scale(0.93,1)" x="0" y="0" text-anchor="end" fill="#e6e6e6" font-size="12.8" font-family="'Liberation Sans', Arial, sans-serif" font-weight="normal"  stroke="#e6e6e6" stroke-width="0.25" stroke-linejoin="round">-</text>
<text transform="translate(881.2,715) scale(0.93,1)" x="0" y="0" text-anchor="end" fill="#e6e6e6" font-size="12.8" font-family="'Liberation Sans', Arial, sans-serif" font-weight="normal"  stroke="#e6e6e6" stroke-width="0.25" stroke-linejoin="round">0<tspan font-family="'Liberation Serif', 'Times New Roman', serif" font-size="13.6"> грн.</tspan></text>
<text transform="translate(961,715) scale(0.93,1)" x="0" y="0" text-anchor="end" fill="#e6e6e6" font-size="12.8" font-family="'Liberation Sans', Arial, sans-serif" font-weight="normal"  stroke="#e6e6e6" stroke-width="0.25" stroke-linejoin="round">-</text>
<text transform="translate(1019.6,715) scale(0.93,1)" x="0" y="0" text-anchor="end" fill="#e6e6e6" font-size="12.8" font-family="'Liberation Sans', Arial, sans-serif" font-weight="normal"  stroke="#e6e6e6" stroke-width="0.25" stroke-linejoin="round">0</text>
<text transform="translate(1093,715) scale(0.93,1)" x="0" y="0" text-anchor="end" fill="#e6e6e6" font-size="12.8" font-family="'Liberation Sans', Arial, sans-serif" font-weight="normal"  stroke="#e6e6e6" stroke-width="0.25" stroke-linejoin="round">-</text>
<text transform="translate(1172,715) scale(0.93,1)" x="0" y="0" text-anchor="end" fill="#e6e6e6" font-size="12.8" font-family="'Liberation Sans', Arial, sans-serif" font-weight="normal"  stroke="#e6e6e6" stroke-width="0.25" stroke-linejoin="round">0<tspan font-family="'Liberation Serif', 'Times New Roman', serif" font-size="13.6"> грн.</tspan></text>
<text transform="translate(1242,715) scale(0.93,1)" x="0" y="0" text-anchor="end" fill="#e6e6e6" font-size="12.8" font-family="'Liberation Sans', Arial, sans-serif" font-weight="normal"  stroke="#e6e6e6" stroke-width="0.25" stroke-linejoin="round">-</text>
<text transform="translate(1341.4,715) scale(0.93,1)" x="0" y="0" text-anchor="end" fill="#e6e6e6" font-size="12.8" font-family="'Liberation Sans', Arial, sans-serif" font-weight="normal"  stroke="#e6e6e6" stroke-width="0.25" stroke-linejoin="round">0%</text>
<text transform="translate(1402,715) scale(0.93,1)" x="0" y="0" text-anchor="end" fill="#e6e6e6" font-size="12.8" font-family="'Liberation Sans', Arial, sans-serif" font-weight="normal"  stroke="#e6e6e6" stroke-width="0.25" stroke-linejoin="round">-</text>
<text transform="translate(1496.3,715) scale(0.93,1)" x="0" y="0" text-anchor="end" fill="#e6e6e6" font-size="12.8" font-family="'Liberation Sans', Arial, sans-serif" font-weight="normal"  stroke="#e6e6e6" stroke-width="0.25" stroke-linejoin="round">0<tspan font-family="'Liberation Serif', 'Times New Roman', serif" font-size="13.6"> грн.</tspan></text>
<text transform="translate(1574,715) scale(0.93,1)" x="0" y="0" text-anchor="end" fill="#e6e6e6" font-size="12.8" font-family="'Liberation Sans', Arial, sans-serif" font-weight="normal"  stroke="#e6e6e6" stroke-width="0.25" stroke-linejoin="round">-</text>
<text transform="translate(428.5,744.8) scale(0.93,1)" x="0" y="0" text-anchor="start" fill="#e6e6e6" font-size="12.8" font-family="'Liberation Sans', Arial, sans-serif" font-weight="normal"  stroke="#e6e6e6" stroke-width="0.25" stroke-linejoin="round">5.</text>
<text transform="translate(467,744.8) scale(0.92,1)" x="0" y="0" text-anchor="start" fill="#e6e6e6" font-size="13.4" font-family="'Liberation Serif', 'Times New Roman', serif" font-weight="normal"  stroke="#e6e6e6" stroke-width="0.3" stroke-linejoin="round">ПОШУК (КОРПОРАТИВ)</text>
<text transform="translate(719.5,744.8) scale(0.93,1)" x="0" y="0" text-anchor="end" fill="#e6e6e6" font-size="12.8" font-family="'Liberation Sans', Arial, sans-serif" font-weight="normal"  stroke="#e6e6e6" stroke-width="0.25" stroke-linejoin="round">0</text>
<text transform="translate(783,744.8) scale(0.93,1)" x="0" y="0" text-anchor="end" fill="#e6e6e6" font-size="12.8" font-family="'Liberation Sans', Arial, sans-serif" font-weight="normal"  stroke="#e6e6e6" stroke-width="0.25" stroke-linejoin="round">-</text>
<text transform="translate(881.2,744.8) scale(0.93,1)" x="0" y="0" text-anchor="end" fill="#e6e6e6" font-size="12.8" font-family="'Liberation Sans', Arial, sans-serif" font-weight="normal"  stroke="#e6e6e6" stroke-width="0.25" stroke-linejoin="round">0<tspan font-family="'Liberation Serif', 'Times New Roman', serif" font-size="13.6"> грн.</tspan></text>
<text transform="translate(961,744.8) scale(0.93,1)" x="0" y="0" text-anchor="end" fill="#e6e6e6" font-size="12.8" font-family="'Liberation Sans', Arial, sans-serif" font-weight="normal"  stroke="#e6e6e6" stroke-width="0.25" stroke-linejoin="round">-</text>
<text transform="translate(1019.6,744.8) scale(0.93,1)" x="0" y="0" text-anchor="end" fill="#e6e6e6" font-size="12.8" font-family="'Liberation Sans', Arial, sans-serif" font-weight="normal"  stroke="#e6e6e6" stroke-width="0.25" stroke-linejoin="round">0</text>
<text transform="translate(1093,744.8) scale(0.93,1)" x="0" y="0" text-anchor="end" fill="#e6e6e6" font-size="12.8" font-family="'Liberation Sans', Arial, sans-serif" font-weight="normal"  stroke="#e6e6e6" stroke-width="0.25" stroke-linejoin="round">-</text>
<text transform="translate(1172,744.8) scale(0.93,1)" x="0" y="0" text-anchor="end" fill="#e6e6e6" font-size="12.8" font-family="'Liberation Sans', Arial, sans-serif" font-weight="normal"  stroke="#e6e6e6" stroke-width="0.25" stroke-linejoin="round">0<tspan font-family="'Liberation Serif', 'Times New Roman', serif" font-size="13.6"> грн.</tspan></text>
<text transform="translate(1242,744.8) scale(0.93,1)" x="0" y="0" text-anchor="end" fill="#e6e6e6" font-size="12.8" font-family="'Liberation Sans', Arial, sans-serif" font-weight="normal"  stroke="#e6e6e6" stroke-width="0.25" stroke-linejoin="round">-</text>
<text transform="translate(1341.4,744.8) scale(0.93,1)" x="0" y="0" text-anchor="end" fill="#e6e6e6" font-size="12.8" font-family="'Liberation Sans', Arial, sans-serif" font-weight="normal"  stroke="#e6e6e6" stroke-width="0.25" stroke-linejoin="round">0%</text>
<text transform="translate(1402,744.8) scale(0.93,1)" x="0" y="0" text-anchor="end" fill="#e6e6e6" font-size="12.8" font-family="'Liberation Sans', Arial, sans-serif" font-weight="normal"  stroke="#e6e6e6" stroke-width="0.25" stroke-linejoin="round">-</text>
<text transform="translate(1496.3,744.8) scale(0.93,1)" x="0" y="0" text-anchor="end" fill="#e6e6e6" font-size="12.8" font-family="'Liberation Sans', Arial, sans-serif" font-weight="normal"  stroke="#e6e6e6" stroke-width="0.25" stroke-linejoin="round">0<tspan font-family="'Liberation Serif', 'Times New Roman', serif" font-size="13.6"> грн.</tspan></text>
<text transform="translate(1574,744.8) scale(0.93,1)" x="0" y="0" text-anchor="end" fill="#e6e6e6" font-size="12.8" font-family="'Liberation Sans', Arial, sans-serif" font-weight="normal"  stroke="#e6e6e6" stroke-width="0.25" stroke-linejoin="round">-</text>
<text transform="translate(467,779.8) scale(0.92,1)" x="0" y="0" text-anchor="start" fill="#ececec" font-size="13.4" font-family="'Liberation Serif', 'Times New Roman', serif" font-weight="bold" >Загальний підсумок</text>
<text transform="translate(719.5,779.8) scale(0.93,1)" x="0" y="0" text-anchor="end" fill="#e6e6e6" font-size="12.8" font-family="'Liberation Sans', Arial, sans-serif" font-weight="bold" >5 183</text>
<text transform="translate(770,779.8) scale(0.93,1)" x="0" y="0" text-anchor="end" fill="#e6e6e6" font-size="12.8" font-family="'Liberation Sans', Arial, sans-serif" font-weight="bold" >1.3%</text>
<path d="M776.4 771.8 L778.3 774.8399999999999 L777.35 774.8399999999999 L777.35 779.8 L775.45 779.8 L775.45 774.8399999999999 L774.5 774.8399999999999 Z" fill="#2a8434"/>
<text transform="translate(881.2,779.8) scale(0.93,1)" x="0" y="0" text-anchor="end" fill="#e6e6e6" font-size="12.8" font-family="'Liberation Sans', Arial, sans-serif" font-weight="bold" >1,64<tspan font-family="'Liberation Serif', 'Times New Roman', serif" font-size="13.6"> грн.</tspan></text>
<text transform="translate(949.7,779.8) scale(0.93,1)" x="0" y="0" text-anchor="end" fill="#e6e6e6" font-size="12.8" font-family="'Liberation Sans', Arial, sans-serif" font-weight="bold" >-14.7%</text>
<path d="M956.1 779.8 L958.0 776.76 L957.0500000000001 776.76 L957.0500000000001 771.8 L955.1500000000001 771.8 L955.1500000000001 776.76 L954.2 776.76 Z" fill="#cc3036"/>
<text transform="translate(1019.6,779.8) scale(0.93,1)" x="0" y="0" text-anchor="end" fill="#e6e6e6" font-size="12.8" font-family="'Liberation Sans', Arial, sans-serif" font-weight="bold" >80</text>
<text transform="translate(1093,779.8) scale(0.93,1)" x="0" y="0" text-anchor="end" fill="#e6e6e6" font-size="12.8" font-family="'Liberation Sans', Arial, sans-serif" font-weight="bold" >0.0%</text>
<text transform="translate(1172,779.8) scale(0.93,1)" x="0" y="0" text-anchor="end" fill="#e6e6e6" font-size="12.8" font-family="'Liberation Sans', Arial, sans-serif" font-weight="bold" >105<tspan font-family="'Liberation Serif', 'Times New Roman', serif" font-size="13.6"> грн.</tspan></text>
<text transform="translate(1231.2,779.8) scale(0.93,1)" x="0" y="0" text-anchor="end" fill="#e6e6e6" font-size="12.8" font-family="'Liberation Sans', Arial, sans-serif" font-weight="bold" >-14.2%</text>
<path d="M1237.6000000000001 779.8 L1239.5 776.76 L1238.55 776.76 L1238.55 771.8 L1236.65 771.8 L1236.65 776.76 L1235.7 776.76 Z" fill="#cc3036"/>
<text transform="translate(1341.4,779.8) scale(0.93,1)" x="0" y="0" text-anchor="end" fill="#e6e6e6" font-size="12.8" font-family="'Liberation Sans', Arial, sans-serif" font-weight="bold" >1,55%</text>
<text transform="translate(1390.8,779.8) scale(0.93,1)" x="0" y="0" text-anchor="end" fill="#e6e6e6" font-size="12.8" font-family="'Liberation Sans', Arial, sans-serif" font-weight="bold" >-1.0%</text>
<path d="M1397.2 779.8 L1399.1 776.76 L1398.1499999999999 776.76 L1398.1499999999999 771.8 L1396.25 771.8 L1396.25 776.76 L1395.3 776.76 Z" fill="#cc3036"/>
<text transform="translate(1496.3,779.8) scale(0.93,1)" x="0" y="0" text-anchor="end" fill="#e6e6e6" font-size="12.8" font-family="'Liberation Sans', Arial, sans-serif" font-weight="bold" >8 504,85<tspan font-family="'Liberation Serif', 'Times New Roman', serif" font-size="13.6"> грн.</tspan></text>
<text transform="translate(1563.2,779.8) scale(0.93,1)" x="0" y="0" text-anchor="end" fill="#e6e6e6" font-size="12.8" font-family="'Liberation Sans', Arial, sans-serif" font-weight="bold" >-13.6%</text>
<path d="M1569.6000000000001 779.8 L1571.5 776.76 L1570.55 776.76 L1570.55 771.8 L1568.65 771.8 L1568.65 776.76 L1567.7 776.76 Z" fill="#cc3036"/>
<clipPath id="tclip"><rect x="419.5" y="567.5" width="1161.5" height="221"/></clipPath>
<text x="1424" y="799.5" fill="#5b5f6b" font-size="21" font-family="'Liberation Sans', Arial, sans-serif" clip-path="url(#tclip)">Активація Windows</text>
</svg></body></html>
